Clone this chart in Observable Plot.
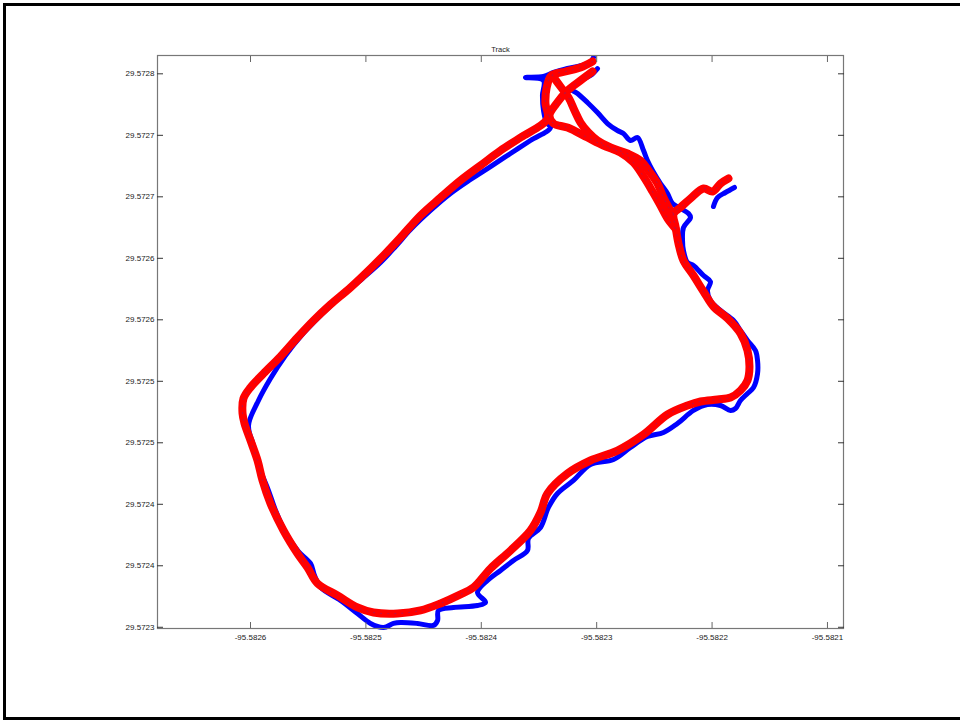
<!DOCTYPE html>
<html>
<head>
<meta charset="utf-8">
<script src="https://cdn.jsdelivr.net/npm/d3@7"></script>
<script src="https://cdn.jsdelivr.net/npm/@observablehq/plot@0.6"></script>
<style>
  html, body { margin: 0; padding: 0; background: #fff; overflow: hidden; }
  #page { position: relative; width: 960px; height: 721px; }
  #border { position: absolute; left: 3px; top: 3px; width: 1000px; height: 717px;
            box-sizing: border-box; border: 3px solid #000; }
  #chart { position: absolute; left: 0; top: 0; }
</style>
</head>
<body>
<div id="page">
  <div id="border"></div>
  <div id="chart"></div>
</div>
<script>
// GPS track recorded twice around the same loop: [longitude, latitude]
const redLap = [
  [-95.5823036, 29.5727600], [-95.5823140, 29.5727551], [-95.5823270, 29.5727519], [-95.5823392, 29.5727486],
  [-95.5823435, 29.5727380], [-95.5823444, 29.5727259], [-95.5823426, 29.5727137], [-95.5823660, 29.5726982],
  [-95.5823833, 29.5726876], [-95.5824007, 29.5726755], [-95.5824180, 29.5726633], [-95.5824353, 29.5726494],
  [-95.5824527, 29.5726348], [-95.5824700, 29.5726169], [-95.5824830, 29.5726039], [-95.5824960, 29.5725917],
  [-95.5825133, 29.5725763], [-95.5825307, 29.5725624], [-95.5825454, 29.5725494], [-95.5825593, 29.5725356],
  [-95.5825740, 29.5725202], [-95.5825887, 29.5725063], [-95.5826000, 29.5724950], [-95.5826061, 29.5724860],
  [-95.5826069, 29.5724738], [-95.5826052, 29.5724657], [-95.5826000, 29.5724519], [-95.5825939, 29.5724356],
  [-95.5825896, 29.5724194], [-95.5825827, 29.5724007], [-95.5825714, 29.5723787], [-95.5825593, 29.5723600],
  [-95.5825506, 29.5723486], [-95.5825419, 29.5723356], [-95.5825246, 29.5723259], [-95.5825073, 29.5723161],
  [-95.5824934, 29.5723120], [-95.5824726, 29.5723112], [-95.5824527, 29.5723137], [-95.5824353, 29.5723194],
  [-95.5824180, 29.5723267], [-95.5824067, 29.5723324], [-95.5823920, 29.5723478], [-95.5823747, 29.5723624],
  [-95.5823574, 29.5723787], [-95.5823487, 29.5723933], [-95.5823426, 29.5724088], [-95.5823253, 29.5724250],
  [-95.5823054, 29.5724356], [-95.5822820, 29.5724437], [-95.5822594, 29.5724567], [-95.5822386, 29.5724730],
  [-95.5822213, 29.5724803], [-95.5822100, 29.5724836], [-95.5821953, 29.5724852], [-95.5821840, 29.5724868],
  [-95.5821754, 29.5724925], [-95.5821693, 29.5725007], [-95.5821676, 29.5725112], [-95.5821693, 29.5725250],
  [-95.5821754, 29.5725389], [-95.5821866, 29.5725511], [-95.5821988, 29.5725608], [-95.5822074, 29.5725730],
  [-95.5822161, 29.5725860], [-95.5822248, 29.5725982], [-95.5822291, 29.5726120], [-95.5822317, 29.5726259],
  [-95.5822334, 29.5726364], [-95.5822274, 29.5726413], [-95.5822187, 29.5726486], [-95.5822074, 29.5726568],
  [-95.5821996, 29.5726543], [-95.5821927, 29.5726608], [-95.5821858, 29.5726649]
];
const redReturnA = [
  [-95.5823036, 29.5727519], [-95.5823140, 29.5727446], [-95.5823253, 29.5727364], [-95.5823348, 29.5727259],
  [-95.5823409, 29.5727161], [-95.5823374, 29.5727096], [-95.5823253, 29.5727063], [-95.5823080, 29.5726982],
  [-95.5822941, 29.5726917], [-95.5822794, 29.5726860], [-95.5822681, 29.5726779], [-95.5822594, 29.5726665],
  [-95.5822516, 29.5726543], [-95.5822447, 29.5726429], [-95.5822386, 29.5726324], [-95.5822317, 29.5726242]
];
const redReturnB = [
  [-95.5823383, 29.5727486], [-95.5823314, 29.5727397], [-95.5823244, 29.5727307], [-95.5823192, 29.5727202],
  [-95.5823140, 29.5727104], [-95.5823071, 29.5727023], [-95.5822993, 29.5726958], [-95.5822880, 29.5726901],
  [-95.5822733, 29.5726852], [-95.5822620, 29.5726795], [-95.5822551, 29.5726714], [-95.5822473, 29.5726608],
  [-95.5822421, 29.5726494], [-95.5822360, 29.5726389], [-95.5822334, 29.5726364]
];
const blueLap = [
  [-95.5823028, 29.5727633], [-95.5823054, 29.5727592], [-95.5823140, 29.5727567], [-95.5823253, 29.5727543],
  [-95.5823374, 29.5727511], [-95.5823461, 29.5727478], [-95.5823617, 29.5727470], [-95.5823461, 29.5727446],
  [-95.5823470, 29.5727324], [-95.5823461, 29.5727202], [-95.5823435, 29.5727104], [-95.5823400, 29.5727063],
  [-95.5823574, 29.5726958], [-95.5823747, 29.5726852], [-95.5823920, 29.5726746], [-95.5824093, 29.5726641],
  [-95.5824267, 29.5726527], [-95.5824440, 29.5726389], [-95.5824613, 29.5726234], [-95.5824743, 29.5726096],
  [-95.5824873, 29.5725966], [-95.5825029, 29.5725836], [-95.5825220, 29.5725689], [-95.5825393, 29.5725535],
  [-95.5825567, 29.5725364], [-95.5825697, 29.5725210], [-95.5825827, 29.5725023], [-95.5825931, 29.5724844],
  [-95.5826017, 29.5724641], [-95.5825974, 29.5724478], [-95.5825913, 29.5724275], [-95.5825844, 29.5724112],
  [-95.5825783, 29.5723950], [-95.5825697, 29.5723771], [-95.5825584, 29.5723616], [-95.5825480, 29.5723519],
  [-95.5825445, 29.5723421], [-95.5825393, 29.5723324], [-95.5825220, 29.5723218], [-95.5825073, 29.5723112],
  [-95.5824960, 29.5723031], [-95.5824847, 29.5722998], [-95.5824761, 29.5723031], [-95.5824700, 29.5723039],
  [-95.5824553, 29.5723031], [-95.5824414, 29.5723015], [-95.5824379, 29.5723055], [-95.5824371, 29.5723137],
  [-95.5824241, 29.5723161], [-95.5824033, 29.5723177], [-95.5823963, 29.5723202], [-95.5824033, 29.5723283],
  [-95.5823946, 29.5723381], [-95.5823833, 29.5723462], [-95.5823721, 29.5723543], [-95.5823600, 29.5723624],
  [-95.5823591, 29.5723722], [-95.5823487, 29.5723811], [-95.5823418, 29.5723974], [-95.5823340, 29.5724088],
  [-95.5823201, 29.5724194], [-95.5823054, 29.5724324], [-95.5822854, 29.5724364], [-95.5822707, 29.5724462],
  [-95.5822560, 29.5724551], [-95.5822421, 29.5724584], [-95.5822300, 29.5724657], [-95.5822161, 29.5724763],
  [-95.5822040, 29.5724811], [-95.5821927, 29.5724803], [-95.5821840, 29.5724763], [-95.5821797, 29.5724779],
  [-95.5821754, 29.5724844], [-95.5821693, 29.5724901], [-95.5821641, 29.5724950], [-95.5821606, 29.5725063],
  [-95.5821606, 29.5725169], [-95.5821624, 29.5725250], [-95.5821693, 29.5725332], [-95.5821754, 29.5725413],
  [-95.5821814, 29.5725494], [-95.5821927, 29.5725576], [-95.5822014, 29.5725657], [-95.5822040, 29.5725738],
  [-95.5822014, 29.5725811], [-95.5822074, 29.5725860], [-95.5822161, 29.5725942], [-95.5822213, 29.5725966],
  [-95.5822248, 29.5726063], [-95.5822256, 29.5726145], [-95.5822248, 29.5726250], [-95.5822187, 29.5726332],
  [-95.5822204, 29.5726364], [-95.5822274, 29.5726405], [-95.5822343, 29.5726446], [-95.5822386, 29.5726527],
  [-95.5822447, 29.5726608], [-95.5822516, 29.5726714], [-95.5822560, 29.5726795], [-95.5822594, 29.5726876],
  [-95.5822646, 29.5726982], [-95.5822707, 29.5726958], [-95.5822768, 29.5727015], [-95.5822820, 29.5727039],
  [-95.5822906, 29.5727096], [-95.5822993, 29.5727185], [-95.5823080, 29.5727267], [-95.5823166, 29.5727340],
  [-95.5823227, 29.5727380], [-95.5823140, 29.5727446], [-95.5823054, 29.5727486], [-95.5822993, 29.5727543]
];
const blueSpur = [
  [-95.5821988, 29.5726421], [-95.5821953, 29.5726494], [-95.5821884, 29.5726535], [-95.5821806, 29.5726576]
];

const xTicks = [-95.5826, -95.5825, -95.5824, -95.5823, -95.5822, -95.5821];
const xTickLabels = ["-95.5826", "-95.5825", "-95.5824", "-95.5823", "-95.5822", "-95.5821"];
const yTicks = [29.5723, 29.57235, 29.5724, 29.57245, 29.5725, 29.57255, 29.5726, 29.57265, 29.5727, 29.57275];
const yTickLabels = ["29.5723", "29.5724", "29.5724", "29.5725", "29.5725", "29.5726", "29.5726", "29.5727", "29.5727", "29.5728"];

const lonDomain = [-95.5826806, -95.5820861];
const latDomain = [29.5722990, 29.5727649];

const toRows = (pts, seg) => pts.map(([lon, lat]) => ({lon, lat, seg}));
const blueRows = [...toRows(blueLap, "lap"), ...toRows(blueSpur, "spur")];
const redRows = [...toRows(redLap, "lap"), ...toRows(redReturnA, "a"), ...toRows(redReturnB, "b")];

const xFmt = d => xTickLabels[xTicks.indexOf(d)];
const yFmt = d => yTickLabels[yTicks.indexOf(d)];
const axisFont = {fontSize: 8, fill: "#222"};
const tickOnly = {tickSize: -6, text: null, label: null};
const pathStyle = {x: "lon", y: "lat", z: "seg", curve: "catmull-rom",
  strokeLinejoin: "round", strokeLinecap: "round"};

const chart = Plot.plot({
  width: 960,
  height: 721,
  marginLeft: 157,
  marginRight: 117,
  marginTop: 55,
  marginBottom: 93,
  style: {fontFamily: "'Liberation Sans', Arial, sans-serif", background: "transparent"},
  x: {domain: lonDomain},
  y: {domain: latDomain},
  marks: [
    Plot.line(blueRows, {...pathStyle, stroke: "#0000ff", strokeWidth: 5}),
    Plot.line(redRows, {...pathStyle, stroke: "#ff0000", strokeWidth: 8}),
    // sample points along the red track show as faint specks
    Plot.line(redRows, {...pathStyle, stroke: "#5a2aa0", strokeWidth: 1,
      strokeDasharray: "1 6", strokeOpacity: 0.45}),
    Plot.frame({stroke: "#777", strokeWidth: 1.2}),
    Plot.axisX({anchor: "bottom", ticks: xTicks, ...tickOnly, stroke: "#666"}),
    Plot.axisX({anchor: "top", ticks: xTicks, ...tickOnly, stroke: "#666"}),
    Plot.axisY({anchor: "left", ticks: yTicks, ...tickOnly, stroke: "#333"}),
    Plot.axisY({anchor: "right", ticks: yTicks, ...tickOnly, stroke: "#333"}),
    Plot.axisX({anchor: "bottom", ticks: xTicks, tickSize: 0, tickPadding: 6, tickFormat: xFmt,
      label: null, ...axisFont}),
    Plot.axisY({anchor: "left", ticks: yTicks, tickSize: 0, tickPadding: 3, tickFormat: yFmt,
      label: null, ...axisFont}),
    Plot.text(["Track"], {frameAnchor: "top", dy: -9, fontSize: 7.5, fill: "#222"})
  ]
});

document.getElementById("chart").appendChild(chart);
</script>
</body>
</html>
